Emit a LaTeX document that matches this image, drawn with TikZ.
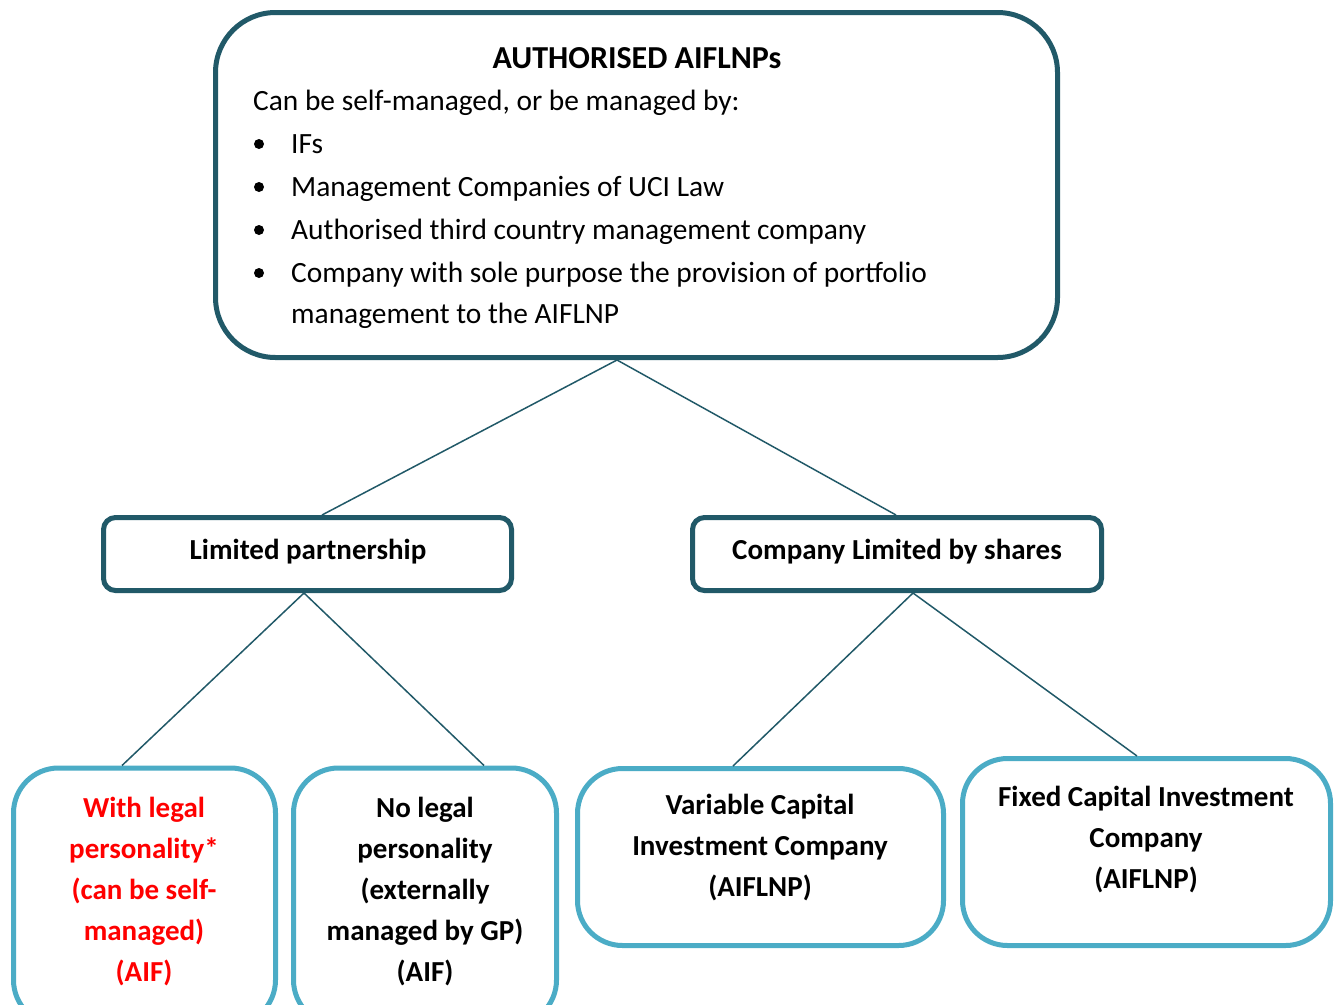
\documentclass[tikz,border=0pt]{standalone}
\usepackage{fontspec}
\setmainfont{Carlito}
\usepackage{xcolor}
\definecolor{darkteal}{RGB}{33,89,104}
\definecolor{lightteal}{RGB}{75,172,198}
\definecolor{redtext}{RGB}{255,0,0}

\begin{document}
\begin{tikzpicture}[x=1pt, y=-1pt,
  box/.style={draw=darkteal, line width=5pt, fill=white, inner sep=0pt},
  leaf/.style={draw=lightteal, line width=5pt, fill=white, inner sep=0pt, rounded corners=45pt},
  body/.style={font=\fontsize{29.4}{43}\selectfont, inner sep=0pt},
  hdr/.style={font=\fontsize{29}{41}\selectfont\bfseries, inner sep=0pt, align=center},
  link/.style={draw=darkteal, line width=1.5pt}]
  \useasboundingbox (0,0) rectangle (1340,1004);
  \clip (0,0) rectangle (1340,1004);

  % top box
  \node[box, rounded corners=60pt, minimum width=842pt, minimum height=345pt] (top) at (636.5,185) {};
  \node[hdr, font=\fontsize{32}{41}\selectfont\bfseries, anchor=base] (title) at (637,68) {AUTHORISED AIFLNPs};
  \node[body, anchor=base west] (intro) at (253,110) {Can be self-managed, or be managed by:};
  \foreach \t [count=\i] in {IFs, Management Companies of UCI Law,
      Authorised third country management company,
      Company with sole purpose the provision of portfolio} {
    \fill ({259}, {101+43*\i}) circle (5);
    \node[body, anchor=base west] (item\i) at (291, {110+43*\i}) {\t};
  }
  \node[body, anchor=base west] (item5) at (291,323) {management to the AIFLNP};

  % middle level
  \node[box, rounded corners=12pt, minimum width=408pt, minimum height=73pt] (lp) at (307.5,554) {};
  \node[hdr] (lpt) at (308,552) {Limited partnership};
  \node[box, rounded corners=12pt, minimum width=409pt, minimum height=73pt] (cls) at (897,554) {};
  \node[hdr] (clst) at (897,552) {Company Limited by shares};

  % bottom level
  \node[leaf, minimum width=262pt, minimum height=257pt] (wl) at (144.5,896.5) {};
  \node[hdr, text=redtext] (wlt) at (144,892) {With legal\\personality*\\(can be self-\\managed)\\(AIF)};
  \node[leaf, minimum width=263pt, minimum height=257pt] (nl) at (425,896.5) {};
  \node[hdr] (nlt) at (425,892) {No legal\\personality\\(externally\\managed by GP)\\(AIF)};
  \node[leaf, minimum width=366pt, minimum height=177pt] (vc) at (760.5,857) {};
  \node[hdr] (vct) at (760,848) {Variable Capital\\Investment Company\\(AIFLNP)};
  \node[leaf, minimum width=368pt, minimum height=187pt] (fc) at (1146.5,852) {};
  \node[hdr] (fct) at (1146,840) {Fixed Capital Investment\\Company\\(AIFLNP)};

  % connectors
  \draw[link] ([xshift=-19.5pt]top.south) -- ([xshift=14.5pt]lp.north);
  \draw[link] ([xshift=-19.5pt]top.south) -- ([xshift=-1pt]cls.north);
  \draw[link] ([xshift=-3.5pt]lp.south) -- ([xshift=-22.5pt]wl.north);
  \draw[link] ([xshift=-3.5pt]lp.south) -- ([xshift=59pt]nl.north);
  \draw[link] ([xshift=16pt]cls.south) -- ([xshift=-27.5pt]vc.north);
  \draw[link] ([xshift=16pt]cls.south) -- ([xshift=-9.5pt]fc.north);
\end{tikzpicture}
\end{document}
